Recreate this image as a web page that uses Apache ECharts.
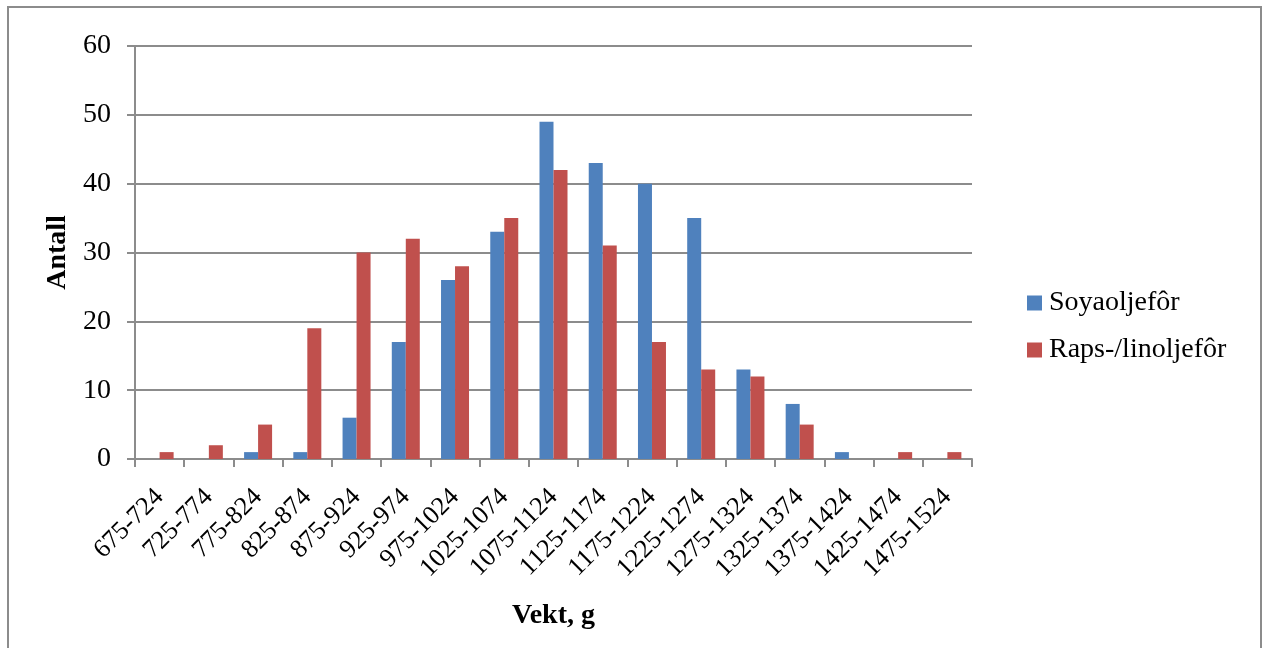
<!DOCTYPE html>
<html>
<head>
<meta charset="utf-8">
<script src="https://cdn.jsdelivr.net/npm/echarts@6/dist/echarts.min.js"></script>
<style>
  html, body { margin: 0; padding: 0; background: #fff; }
  #frame { position: absolute; left: 7px; top: 6px; width: 1255px; height: 700px; border: 2px solid #8c8c8c; box-sizing: border-box; }
  #chart { position: absolute; left: 0; top: 0; width: 1264px; height: 648px; }
</style>
</head>
<body>
<div id="frame"></div>
<div id="chart"></div>
<script>
// Weight classes (g) and counts per feed group
const categories = ['675-724','725-774','775-824','825-874','875-924','925-974','975-1024','1025-1074','1075-1124','1125-1174','1175-1224','1225-1274','1275-1324','1325-1374','1375-1424','1425-1474','1475-1524'];
const soyaValues = [0, 0, 1, 1, 6, 17, 26, 33, 49, 43, 40, 35, 13, 8, 1, 0, 0];
const rapsValues = [1, 2, 5, 19, 30, 32, 28, 35, 42, 31, 17, 13, 12, 5, 0, 1, 1];
const yTicks = [0, 10, 20, 30, 40, 50, 60];

const font = '"Liberation Serif", "Times New Roman", serif';
const chart = echarts.init(document.getElementById('chart'), null, { renderer: 'canvas' });
chart.setOption({
  animation: false,
  textStyle: { fontFamily: font, color: '#000' },
  grid: { left: 135, right: 292, top: 46, bottom: 189, containLabel: false },
  legend: {
    orient: 'vertical',
    left: 1027, top: 288,
    padding: 0,
    itemWidth: 15, itemHeight: 15, itemGap: 17,
    icon: 'rect',
    textStyle: { fontFamily: font, fontSize: 28, lineHeight: 30, color: '#000', padding: [0, 0, 0, 2] },
    data: ['Soyaoljefôr', 'Raps-/linoljefôr']
  },
  xAxis: {
    type: 'category',
    data: categories,
    name: 'Vekt, g',
    nameLocation: 'middle',
    nameGap: 143,
    nameTextStyle: { fontFamily: font, fontSize: 28, fontWeight: 'bold', color: '#000' },
    axisLine: { lineStyle: { color: '#8c8c8c', width: 2 } },
    axisTick: { show: true, alignWithLabel: false, length: 8, lineStyle: { color: '#8c8c8c', width: 2 } },
    axisLabel: { rotate: 45, fontFamily: font, fontSize: 26, color: '#000', margin: 34, interval: 0, hideOverlap: false },
    splitLine: { show: false }
  },
  yAxis: {
    type: 'value',
    min: 0, max: 60, interval: 10,
    name: 'Antall',
    nameLocation: 'middle',
    nameGap: 63,
    nameRotate: 90,
    nameTextStyle: { fontFamily: font, fontSize: 28, fontWeight: 'bold', color: '#000' },
    axisLine: { show: true, lineStyle: { color: '#8c8c8c', width: 2 } },
    axisTick: { show: true, length: 8, lineStyle: { color: '#8c8c8c', width: 2 } },
    axisLabel: {
      fontFamily: font, fontSize: 28, color: '#000', margin: 24,
      formatter: v => yTicks.includes(v) ? String(v) : ''
    },
    splitLine: { show: true, lineStyle: { color: '#8c8c8c', width: 2 } }
  },
  series: [
    {
      name: 'Soyaoljefôr', type: 'bar', data: soyaValues,
      barWidth: 14, barGap: '0%',
      itemStyle: { color: '#4f81bd' }
    },
    {
      name: 'Raps-/linoljefôr', type: 'bar', data: rapsValues,
      barWidth: 14, barGap: '0%',
      itemStyle: { color: '#c0504d' }
    }
  ]
});
</script>
</body>
</html>
